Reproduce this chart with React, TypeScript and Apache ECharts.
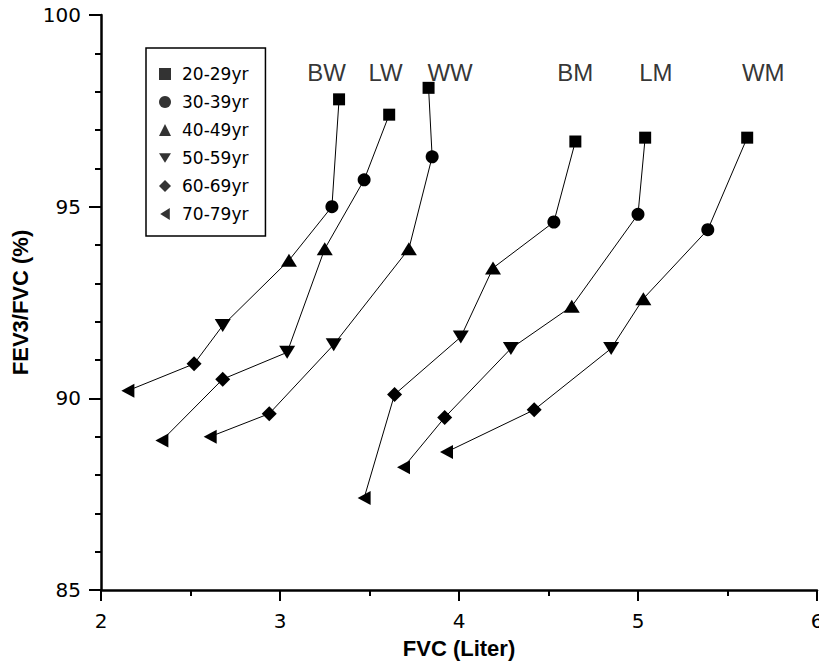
import React, { useEffect, useRef } from "react";
import * as echarts from "echarts";

// Age groups (legend) and subject groups
const ageGroups = ["20-29yr", "30-39yr", "40-49yr", "50-59yr", "60-69yr", "70-79yr"];
const groupNames = ["BW", "LW", "WW", "BM", "LM", "WM"];

// FVC (Liter) per age group, for each subject group
const fvcBW = [3.33, 3.29, 3.05, 2.68, 2.52, 2.15];
const fvcLW = [3.61, 3.47, 3.25, 3.04, 2.68, 2.34];
const fvcWW = [3.83, 3.85, 3.72, 3.30, 2.94, 2.61];
const fvcBM = [4.65, 4.53, 4.19, 4.01, 3.64, 3.47];
const fvcLM = [5.04, 5.0, 4.63, 4.29, 3.92, 3.69];
const fvcWM = [5.61, 5.39, 5.03, 4.85, 4.42, 3.93];

// FEV3/FVC (%) per age group, for each subject group
const ratioBW = [97.8, 95.0, 93.6, 91.9, 90.9, 90.2];
const ratioLW = [97.4, 95.7, 93.9, 91.2, 90.5, 88.9];
const ratioWW = [98.1, 96.3, 93.9, 91.4, 89.6, 89.0];
const ratioBM = [96.7, 94.6, 93.4, 91.6, 90.1, 87.4];
const ratioLM = [96.8, 94.8, 92.4, 91.3, 89.5, 88.2];
const ratioWM = [96.8, 94.4, 92.6, 91.3, 89.7, 88.6];

// Where each group's name label sits (data coordinates)
const groupLabelFvc = [3.26, 3.59, 3.95, 4.65, 5.1, 5.7];
const groupLabelRatio = [98.5, 98.5, 98.5, 98.5, 98.5, 98.5];

// Axis ticks
const xTicks = { min: 2, max: 6, interval: 1 };
const yTicks = { min: 85, max: 100, interval: 5 };

const fvcAll = [fvcBW, fvcLW, fvcWW, fvcBM, fvcLM, fvcWM];
const ratioAll = [ratioBW, ratioLW, ratioWW, ratioBM, ratioLM, ratioWM];

const DOWN_TRI = "path://M0,0L10,0L5,8Z";
const LEFT_TRI = "path://M8,0L8,10L0,5Z";
const ageSymbols = ["rect", "circle", "triangle", DOWN_TRI, "diamond", LEFT_TRI];
const ageSymbolSizes: any[] = [12, 13, [16, 13], [16, 13], [15, 15], [13, 14]];

export default function App() {
  const ref = useRef<HTMLDivElement>(null);
  useEffect(() => {
    if (!ref.current) return;
    const chart = echarts.init(ref.current, undefined, { renderer: "svg" });

    const groupSeries = groupNames.map((g, gi) => ({
      name: g,
      type: "line",
      data: fvcAll[gi].map((x, i) => ({
        value: [x, ratioAll[gi][i]],
        symbol: ageSymbols[i],
        symbolSize: ageSymbolSizes[i],
      })),
      showAllSymbol: true,
      lineStyle: { color: "#000", width: 1 },
      itemStyle: { color: "#000" },
      emphasis: { disabled: true },
      z: 3,
    }));

    const legendSeries = ageGroups.map((a, i) => ({
      name: a,
      type: "scatter",
      data: [],
      symbol: ageSymbols[i],
      itemStyle: { color: "#000" },
    }));

    const labelSeries = {
      name: "groupLabels",
      type: "scatter",
      silent: true,
      symbolSize: 1,
      itemStyle: { color: "transparent" },
      label: {
        show: true,
        position: "inside",
        formatter: (p: any) => p.name,
        fontFamily: "Liberation Sans, Arial, sans-serif",
        fontSize: 24,
        color: "#000",
      },
      data: groupNames.map((g, i) => ({ name: g, value: [groupLabelFvc[i], groupLabelRatio[i]] })),
    };

    const axisFont = { fontFamily: "DejaVu Sans, sans-serif", fontSize: 20, color: "#000" };
    const nameFont = {
      fontFamily: "Liberation Sans, Arial, sans-serif",
      fontSize: 22,
      fontWeight: "bold",
      color: "#000",
    };

    chart.setOption({
      animation: false,
      backgroundColor: "#fff",
      grid: { left: 101, right: 2, top: 15, bottom: 75, containLabel: false, outerBoundsMode: "none" },
      legend: {
        orient: "vertical",
        left: 146,
        top: 48,
        padding: [16, 17, 12, 13],
        itemGap: 8,
        itemWidth: 12,
        itemHeight: 12,
        borderColor: "#000",
        borderWidth: 1.5,
        selectedMode: false,
        textStyle: {
          fontFamily: "DejaVu Sans, sans-serif",
          fontSize: 17,
          lineHeight: 20,
          color: "#000",
          padding: [0, 0, 0, 6],
        },
        data: ageGroups.map((a, i) => ({ name: a, icon: ageSymbols[i] })),
      },
      xAxis: {
        type: "value",
        min: xTicks.min,
        max: xTicks.max,
        interval: xTicks.interval,
        name: "FVC (Liter)",
        nameLocation: "middle",
        nameGap: 47,
        nameTextStyle: nameFont,
        axisLine: { show: true, onZero: false, lineStyle: { color: "#000", width: 2.5 } },
        axisTick: { show: true, length: 11, lineStyle: { color: "#000", width: 2 } },
        minorTick: { show: true, splitNumber: 2, length: 6, lineStyle: { color: "#000", width: 2 } },
        splitLine: { show: false },
        minorSplitLine: { show: false },
        axisLabel: { ...axisFont, margin: 21 },
      },
      yAxis: {
        type: "value",
        min: yTicks.min,
        max: yTicks.max,
        interval: yTicks.interval,
        name: "FEV3/FVC (%)",
        nameLocation: "middle",
        nameGap: 65,
        nameTextStyle: nameFont,
        axisLine: { show: true, lineStyle: { color: "#000", width: 2.5 } },
        axisTick: { show: true, length: 12, lineStyle: { color: "#000", width: 2 } },
        minorTick: { show: true, splitNumber: 5, length: 6, lineStyle: { color: "#000", width: 2 } },
        splitLine: { show: false },
        minorSplitLine: { show: false },
        axisLabel: { ...axisFont, margin: 20 },
      },
      series: [...groupSeries, ...legendSeries, labelSeries],
    } as any);

    return () => chart.dispose();
  }, []);

  return (
    <div
      ref={ref}
      style={{ position: "absolute", left: 0, top: 0, width: 819, height: 665, background: "#fff" }}
    />
  );
}
